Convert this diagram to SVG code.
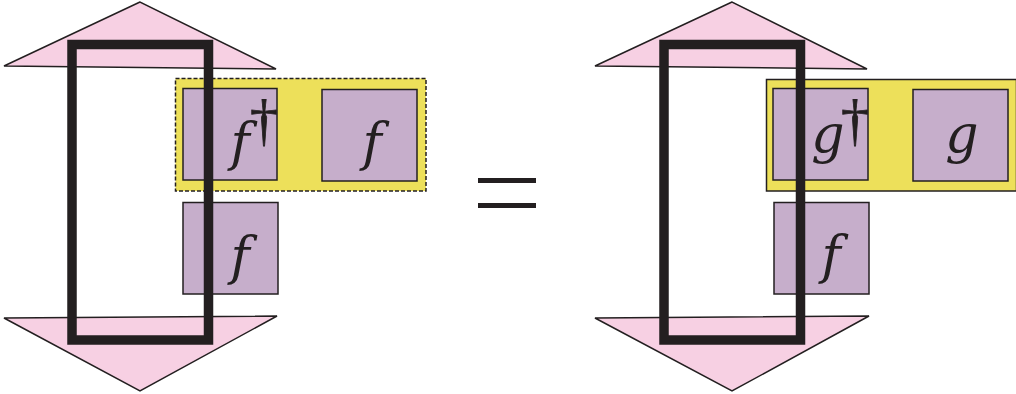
<svg xmlns="http://www.w3.org/2000/svg" width="1016" height="394" viewBox="0 0 1016 394">
<style>
.tri{fill:#F7D0E3;stroke:#231F20;stroke-width:1.5;stroke-linejoin:miter}
.box{fill:#C6AECB;stroke:#231F20;stroke-width:1.5}
.ylw{fill:#EDE05A;stroke:#231F20;stroke-width:1.5}
.dash{stroke-dasharray:4 2}
.wire{fill:none;stroke:#231F20;stroke-width:9.5}
.lbl{font-family:"DejaVu Serif","Liberation Serif",serif;font-style:italic;font-size:52px;fill:#231F20;text-anchor:middle}
.dag{font-family:"Liberation Serif","DejaVu Serif",serif;font-size:56px;fill:#231F20;text-anchor:middle;stroke:#231F20;stroke-width:0.8}
.eq{fill:#231F20}
</style>
<rect width="1016" height="394" fill="#fff"/>
<!-- Left side -->
<g id="L-top-effect"><polygon class="tri" points="140,2 4,66 276,69"/></g>
<g id="L-bottom-effect"><polygon class="tri" points="4,318 277,316 140,391"/></g>
<g id="L-pair"><rect class="ylw dash" x="175.5" y="78.5" width="250.5" height="112.5"/></g>
<g id="L-fdag"><rect class="box" x="183" y="88.5" width="94" height="91.5"/>
<text class="lbl" x="240" y="160">f</text><text class="dag" x="264" y="139">†</text></g>
<g id="L-f1"><rect class="box" x="322" y="89.5" width="95" height="91.5"/>
<text class="lbl" x="372" y="160">f</text></g>
<g id="L-f2"><rect class="box" x="183" y="202.5" width="95" height="91.5"/>
<text class="lbl" x="240" y="274">f</text></g>
<!-- equals -->
<g id="equals"><rect class="eq" x="478" y="178" width="58" height="5"/><rect class="eq" x="478" y="203" width="58" height="5"/></g>
<!-- Right side -->
<g id="R-top-effect"><polygon class="tri" points="732,2 595,66 867,69"/></g>
<g id="R-bottom-effect"><polygon class="tri" points="595,318 869,316 732,391"/></g>
<g id="R-pair"><rect class="ylw" x="766.5" y="79.5" width="250" height="111.5"/></g>
<g id="R-gdag"><rect class="box" x="773" y="88.5" width="95" height="91.5"/>
<text class="lbl" x="828" y="152">g</text><text class="dag" x="855" y="139">†</text></g>
<g id="R-g"><rect class="box" x="913" y="89.5" width="95" height="91.5"/>
<text class="lbl" x="962" y="152">g</text></g>
<g id="R-f"><rect class="box" x="774" y="202.5" width="95" height="91.5"/>
<text class="lbl" x="831" y="273">f</text></g>
<!-- connectors (wire loops) -->
<g id="connectors">
<rect class="wire" x="72" y="44.5" width="136.5" height="295.5"/>
<rect class="wire" x="664" y="44.5" width="136.5" height="295.5"/>
</g>
</svg>
